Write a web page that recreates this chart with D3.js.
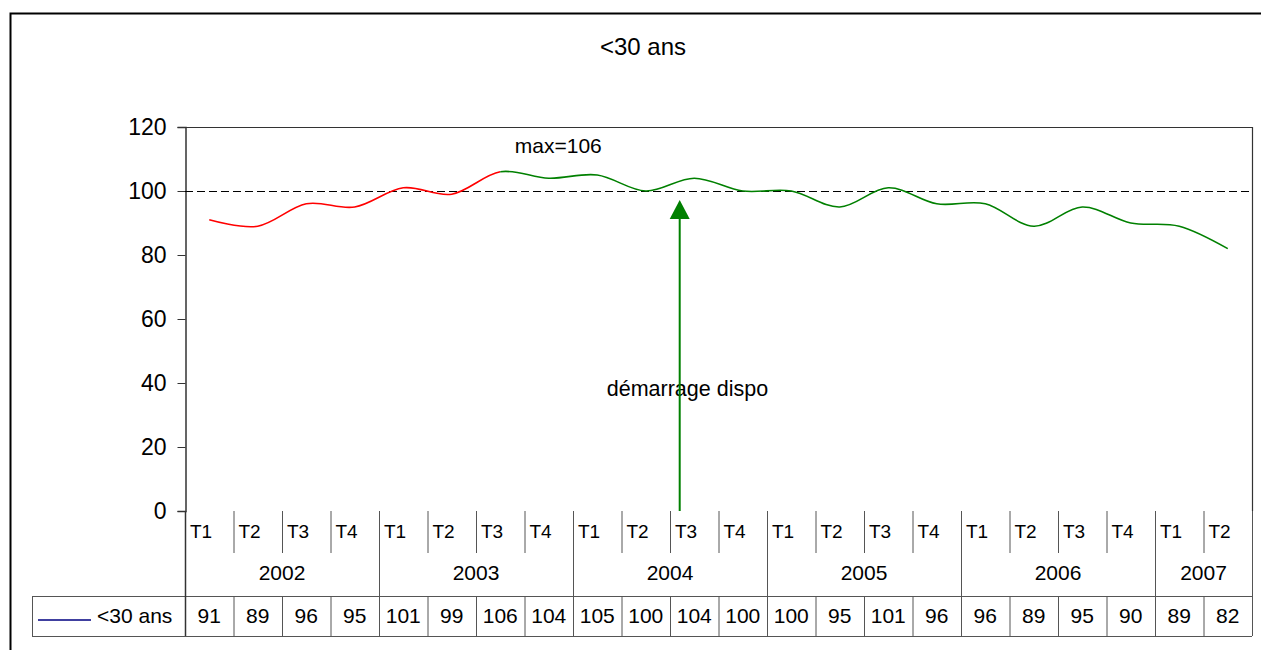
<!DOCTYPE html>
<html>
<head>
<meta charset="utf-8">
<script src="https://cdn.jsdelivr.net/npm/d3@7"></script>
<style>
  html, body { margin: 0; padding: 0; background: #fff; }
  svg { display: block; font-family: "Liberation Sans", Arial, sans-serif; }
</style>
</head>
<body>
<svg id="chart" width="1261" height="650"></svg>
<script>
// ---- data ----
const quarters = ["T1","T2","T3","T4","T1","T2","T3","T4","T1","T2","T3","T4","T1","T2","T3","T4","T1","T2","T3","T4","T1","T2"];
const years = ["2002","2003","2004","2005","2006","2007"];
const quartersPerYear = [4,4,4,4,4,2];
const values = [91,89,96,95,101,99,106,104,105,100,104,100,100,95,101,96,96,89,95,90,89,82];
const seriesName = "<30 ans";
const title = "<30 ans";
const yTicks = [0,20,40,60,80,100,120];
const referenceValue = 100;
const redUntilIndex = 6;          // red segment up to 2003 T3 (max)
const maxLabel = "max=106";
const maxLabelPos = [6.8, 112];   // [quarter position, value]
const arrowPos = 10.2;            // quarter position of the arrow
const arrowTipValue = 97.2;
const startLabel = "démarrage dispo";
const startLabelPos = [10.36, 36];

// ---- layout ----
const svg = d3.select("#chart");
const L = 185, R = 1252, T = 127, B = 511;
const rowT = 553, rowY = 596, rowD = 636, legendLeft = 32;

const x = d3.scaleBand().domain(d3.range(values.length)).range([L, R]).padding(0);
const xq = d3.scaleLinear().domain([0, values.length]).range([L, R]);
const y = d3.scaleLinear().domain([0, 120]).range([B, T]);

const tableColor = "#555";

// outer frame
svg.append("path").attr("d", `M10.5,650 V13.5 H1261`).attr("fill","none").attr("stroke","#000").attr("stroke-width",2);

// title
svg.append("text").attr("x", 643).attr("y", 55).attr("text-anchor","middle")
  .attr("font-size", 24).text(title);

// plot border (top/right)
svg.append("path").attr("d", `M${L},${T+0.5} H${R+0.5} V${B}`).attr("fill","none").attr("stroke","#333").attr("stroke-width",1.2);

// y axis
const yAxis = d3.axisLeft(y).tickValues(yTicks).tickSize(8).tickPadding(11).tickFormat(d3.format("d"));
const gy = svg.append("g").attr("transform", `translate(${L + 0.5},0)`).call(yAxis);
gy.select(".domain").attr("stroke","#333").attr("stroke-width",1.5);
gy.selectAll(".tick line").attr("stroke","#333");
gy.selectAll(".tick text").attr("font-size", 23).attr("fill","#000").attr("font-family","Liberation Sans, Arial, sans-serif");

// reference dashed line
svg.append("line").attr("x1", L).attr("x2", R).attr("y1", Math.round(y(referenceValue)) + 0.5).attr("y2", Math.round(y(referenceValue)) + 0.5)
  .attr("stroke","#000").attr("stroke-width",1).attr("stroke-dasharray","8,4");

// line (smoothed), split colours via clip paths
const pts = values.map((v,i) => [x(i) + x.bandwidth()/2, y(v)]);
const lineGen = d3.line().curve(d3.curveCatmullRom.alpha(0));
const splitX = x(redUntilIndex) + x.bandwidth()/2;
const defs = svg.append("defs");
defs.append("clipPath").attr("id","clipRed").append("rect").attr("x",0).attr("y",0).attr("width",splitX).attr("height",650);
defs.append("clipPath").attr("id","clipGreen").append("rect").attr("x",splitX).attr("y",0).attr("width",1261-splitX).attr("height",650);
svg.append("path").attr("d", lineGen(pts)).attr("fill","none").attr("stroke","#ff0000").attr("stroke-width",1.6).attr("clip-path","url(#clipRed)");
svg.append("path").attr("d", lineGen(pts)).attr("fill","none").attr("stroke","#008000").attr("stroke-width",1.6).attr("clip-path","url(#clipGreen)");

// annotations
svg.append("text").attr("x", xq(maxLabelPos[0])).attr("y", y(maxLabelPos[1]))
  .attr("font-size", 21).text(maxLabel);
svg.append("text").attr("x", xq(startLabelPos[0])).attr("y", y(startLabelPos[1]))
  .attr("text-anchor","middle").attr("font-size", 21.5).text(startLabel);
const ax = xq(arrowPos), tipY = y(arrowTipValue);
svg.append("line").attr("x1", ax).attr("x2", ax).attr("y1", B).attr("y2", tipY + 18)
  .attr("stroke","#008000").attr("stroke-width",2);
svg.append("path").attr("d", `M${ax},${tipY} L${ax-10},${tipY+19} L${ax+10},${tipY+19} Z`).attr("fill","#008000");

// ---- data table ----
const tbl = svg.append("g").attr("stroke", tableColor).attr("stroke-width",1);
tbl.append("line").attr("x1", legendLeft).attr("x2", R).attr("y1", rowY+0.5).attr("y2", rowY+0.5);
tbl.append("line").attr("x1", legendLeft).attr("x2", R).attr("y1", rowD+0.5).attr("y2", rowD+0.5);
tbl.append("line").attr("x1", legendLeft+0.5).attr("x2", legendLeft+0.5).attr("y1", rowY).attr("y2", rowD);
tbl.append("line").attr("x1", R+0.5).attr("x2", R+0.5).attr("y1", B).attr("y2", rowD);
tbl.append("line").attr("x1", L+0.5).attr("x2", L+0.5).attr("y1", B).attr("y2", rowD).attr("stroke","#333").attr("stroke-width",1.5);
const yearStarts = [];
let acc = 0;
quartersPerYear.forEach(n => { yearStarts.push(acc); acc += n; });
yearStarts.slice(1).forEach(s => {
  tbl.append("line").attr("x1", x(s)+0.5).attr("x2", x(s)+0.5).attr("y1", B).attr("y2", rowD);
});
d3.range(1, values.length).filter(i => !yearStarts.includes(i)).forEach(i => {
  tbl.append("line").attr("x1", x(i)+0.5).attr("x2", x(i)+0.5).attr("y1", B).attr("y2", rowT);
  tbl.append("line").attr("x1", x(i)+0.5).attr("x2", x(i)+0.5).attr("y1", rowY).attr("y2", rowD);
});

// quarter labels
svg.append("g").selectAll("text").data(quarters).join("text")
  .attr("x", (d,i) => x(i) + 5).attr("y", 538).attr("font-size", 19).text(d => d);
// year labels
svg.append("g").selectAll("text").data(years).join("text")
  .attr("x", (d,i) => (xq(yearStarts[i]) + xq(yearStarts[i] + quartersPerYear[i]))/2)
  .attr("y", 580).attr("text-anchor","middle").attr("font-size", 21).text(d => d);
// values
svg.append("g").selectAll("text").data(values).join("text")
  .attr("x", (d,i) => x(i) + x.bandwidth()/2).attr("y", 623).attr("text-anchor","middle")
  .attr("font-size", 21).text(d => d);
// legend
svg.append("line").attr("x1", 38).attr("x2", 91).attr("y1", 620).attr("y2", 620).attr("stroke","#000080").attr("stroke-width",1.5);
svg.append("text").attr("x", 97).attr("y", 623).attr("font-size", 21).text(seriesName);
</script>
</body>
</html>
